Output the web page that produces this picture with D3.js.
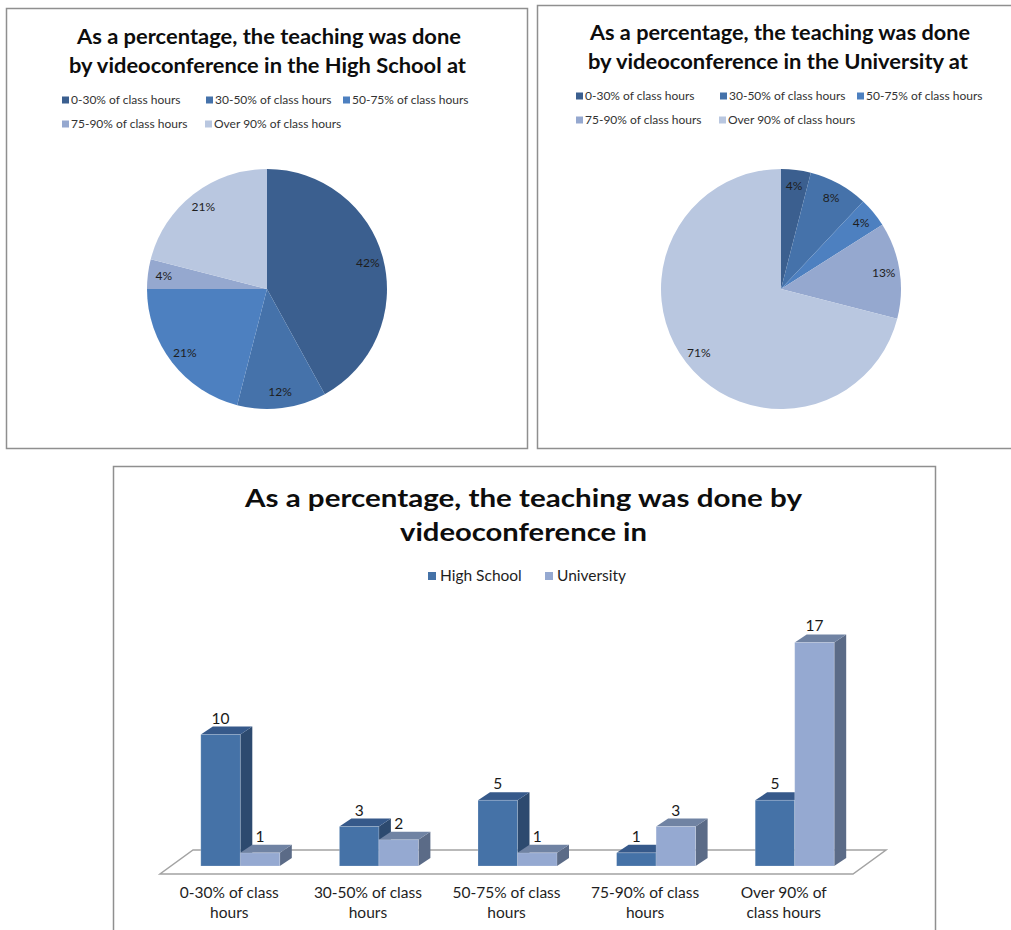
<!DOCTYPE html>
<html>
<head>
<meta charset="utf-8">
<script src="https://cdn.jsdelivr.net/npm/d3@7"></script>
<style>
  html, body { margin: 0; padding: 0; background: #fff; }
  svg { display: block; font-family: Lato, "Open Sans", sans-serif; }
</style>
</head>
<body>
<svg id="chart" width="1011" height="930"></svg>
<script>
// ---- data ----
const categories = [
  "0-30% of class hours",
  "30-50% of class hours",
  "50-75% of class hours",
  "75-90% of class hours",
  "Over 90% of class hours"
];
const highSchoolPct = [42, 12, 21, 4, 21];
const universityPct = [4, 8, 4, 13, 71];

const series = ["High School", "University"];
const highSchoolCounts = [10, 3, 5, 1, 5];
const universityCounts = [1, 2, 1, 3, 17];

const axisLabelLines = [
  ["0-30% of class", "hours"],
  ["30-50% of class", "hours"],
  ["50-75% of class", "hours"],
  ["75-90% of class", "hours"],
  ["Over 90% of", "class hours"]
];

const sliceColors = ["#3b5f8f", "#4572aa", "#4d80c0", "#95a8cf", "#b9c7e0"];
const barFaces = {
  "High School": { front: "#4572a7", top: "#36598a", side: "#2d4a6f" },
  "University":  { front: "#95a9d1", top: "#7083a3", side: "#5b6b87" }
};

const svg = d3.select("#chart");

// panel frames
function frame(x, y, w, h) {
  svg.append("rect")
    .attr("x", x).attr("y", y).attr("width", w).attr("height", h)
    .attr("fill", "#fff").attr("stroke", "#8f8f8f").attr("stroke-width", 1.5);
}
frame(6.5, 8.5, 521, 440);
frame(537.5, 5.5, 500, 443);
frame(113.5, 466.5, 822, 500);

function titleLine(text, cx, y, size, width) {
  svg.append("text")
    .attr("x", cx - width / 2).attr("y", y)
    .attr("font-size", size).attr("font-weight", 700).attr("fill", "#0d0d0d")
    .attr("textLength", width).attr("lengthAdjust", "spacingAndGlyphs")
    .text(text);
}

// ---- pies ----
const pie = d3.pie().sort(null).value(d => d);
const arc = d3.arc().innerRadius(0).outerRadius(120);
const labelArc = d3.arc().innerRadius(104).outerRadius(104);

function drawPie(cx, cy, values) {
  const g = svg.append("g").attr("transform", `translate(${cx},${cy})`);
  const arcs = pie(values);
  g.selectAll("path").data(arcs).join("path")
    .attr("d", arc)
    .attr("fill", (d, i) => sliceColors[i]);
  g.selectAll("text").data(arcs).join("text")
    .attr("transform", d => `translate(${labelArc.centroid(d)})`)
    .attr("text-anchor", "middle").attr("dy", "0.35em")
    .attr("font-size", 12).attr("fill", "#1e1e1e")
    .text(d => d.data + "%");
}

function drawPieLegend(cx, row1, row2) {
  const cols = [[-205, row1], [-61, row1], [76, row1], [-205, row2], [-62, row2]];
  categories.forEach((c, i) => {
    const [dx, y] = cols[i];
    svg.append("rect").attr("x", cx + dx).attr("y", y - 3.5)
      .attr("width", 7).attr("height", 7).attr("fill", sliceColors[i]);
    svg.append("text").attr("x", cx + dx + 9).attr("y", y + 4)
      .attr("font-size", 12).attr("fill", "#333").text(c);
  });
}

titleLine("As a percentage, the teaching was done", 269, 44, 21, 384);
titleLine("by videoconference in the High School at", 267.5, 73, 21, 397);
drawPieLegend(267, 100, 124);
drawPie(267, 289, highSchoolPct);

titleLine("As a percentage, the teaching was done", 780, 40, 21, 380);
titleLine("by videoconference in the University at", 778, 69, 21, 380);
drawPieLegend(781, 96, 120);
drawPie(781, 289, universityPct);

// ---- 3D column chart ----
titleLine("As a percentage, the teaching was done by", 523.5, 507, 25, 557);
titleLine("videoconference in", 523.5, 541, 25, 247);

// legend
const legendItems = [[428, "High School"], [545, "University"]];
legendItems.forEach(([x, name]) => {
  svg.append("rect").attr("x", x).attr("y", 572).attr("width", 8).attr("height", 8)
    .attr("fill", barFaces[name].front);
  svg.append("text").attr("x", x + 12).attr("y", 581)
    .attr("font-size", 15.5).attr("fill", "#1e1e1e").text(name);
});

const floorFront = 874, floorDX = 33, floorDY = -24;
const x = d3.scaleBand().domain(categories).range([160, 853]);
const xs = d3.scaleBand().domain(series).range([0, 79]);
const y = d3.scaleLinear().domain([0, 20]).range([866, 603]);
const depthDX = 12, depthDY = -8, shift = 11;

const bars = svg.append("g");
// floor
bars.append("path")
  .attr("d", d3.line()([
    [x.range()[0], floorFront], [x.range()[1], floorFront],
    [x.range()[1] + floorDX, floorFront + floorDY], [x.range()[0] + floorDX, floorFront + floorDY]
  ]) + "Z")
  .attr("fill", "#fff").attr("stroke", "#a3a3a3").attr("stroke-width", 1.5);

const rows = [];
categories.forEach((c, i) => {
  rows.push({ cat: c, s: "High School", v: highSchoolCounts[i] });
  rows.push({ cat: c, s: "University", v: universityCounts[i] });
});

rows.forEach(d => {
  const x0 = x(d.cat) + x.bandwidth() / 2 + shift - xs.range()[1] / 2 + xs(d.s);
  const w = xs.bandwidth();
  const y0 = y(0), y1 = y(d.v);
  const f = barFaces[d.s];
  const g = bars.append("g");
  g.append("path")
    .attr("d", `M${x0 + w},${y0}L${x0 + w + depthDX},${y0 + depthDY}L${x0 + w + depthDX},${y1 + depthDY}L${x0 + w},${y1}Z`)
    .attr("fill", f.side);
  g.append("path")
    .attr("d", `M${x0},${y1}L${x0 + depthDX},${y1 + depthDY}L${x0 + w + depthDX},${y1 + depthDY}L${x0 + w},${y1}Z`)
    .attr("fill", f.top);
  g.append("rect")
    .attr("x", x0).attr("y", y1).attr("width", w).attr("height", y0 - y1)
    .attr("fill", f.front).attr("stroke", "rgba(255,255,255,0.25)").attr("stroke-width", 0.8);
  g.append("text")
    .attr("x", x0 + w / 2).attr("y", y1 - 11)
    .attr("text-anchor", "middle").attr("font-size", 15.5).attr("fill", "#1a1a1a")
    .text(d.v);
});

// category labels
categories.forEach((c, i) => {
  const t = svg.append("text")
    .attr("text-anchor", "middle").attr("font-size", 15.5).attr("fill", "#1e1e1e");
  axisLabelLines[i].forEach((line, k) => {
    t.append("tspan").attr("x", x(c) + x.bandwidth() / 2).attr("y", 898 + k * 20).text(line);
  });
});
</script>
</body>
</html>
